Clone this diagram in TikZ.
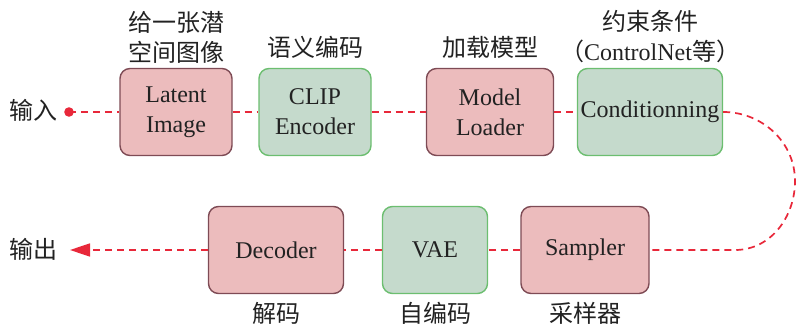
\documentclass[tikz,border=0pt]{standalone}
\usepackage{fontspec}
\setmainfont{Liberation Serif}
\newfontfamily\cjk{Noto Sans CJK SC}
\usepackage{xcolor}
\usetikzlibrary{arrows.meta}

\definecolor{redfill}{HTML}{ECBCBD}
\definecolor{reddraw}{HTML}{7E4B55}
\definecolor{greenfill}{HTML}{C5DACC}
\definecolor{greendraw}{HTML}{6CBE70}
\definecolor{flowred}{HTML}{E8283A}
\definecolor{ink}{HTML}{222222}

\begin{document}
\begin{tikzpicture}[x=0.5pt, y=-0.5pt,
    redbox/.style={draw=reddraw, fill=redfill, line width=0.7pt, rounded corners=5pt,
      minimum height=43.5pt, inner xsep=1pt, align=center, text=ink,
      font=\fontsize{12}{15}\selectfont},
    greenbox/.style={redbox, draw=greendraw, fill=greenfill},
    tag/.style={align=center, text=ink, font=\fontsize{12}{15}\selectfont\cjk},
    flow/.style={draw=flowred, line width=0.85pt, dash pattern=on 3.5pt off 2.5pt}]
        % Frame
        \useasboundingbox (0,0) rectangle (798,325);
        % Top row
        \node [redbox, minimum width=56pt] (latent) at (176,112) {Latent\\Image};
        \node [greenbox, minimum width=56pt] (clip) at (315,112) {CLIP\\Encoder};
        \node [redbox, minimum width=63.5pt] (model) at (490,112) {Model\\Loader};
        \node [greenbox, minimum width=72.5pt] (cond) at (650,112) {Conditionning};
        % Bottom row
        \node [redbox, minimum width=67.5pt] (dec) at (276,250) {Decoder};
        \node [greenbox, minimum width=52.5pt] (vae) at (435,250) {VAE};
        \node [redbox, minimum width=64pt] (samp) at (585,250) {Sampler};
        % Labels
        \node [tag] (latent-l) at (176,37) {给一张潜\\空间图像};
        \node [tag] (clip-l) at (315,47) {语义编码};
        \node [tag] (model-l) at (490,47) {加载模型};
        \node [tag] (cond-l) at (650,37) {约束条件\\（{\rmfamily ControlNet}等）};
        \node [tag] (dec-l) at (276,313) {解码};
        \node [tag] (vae-l) at (435,313) {自编码};
        \node [tag] (samp-l) at (585,313) {采样器};
        \node [tag] (in) at (34,110) {输入};
        \node [tag] (out) at (34,249) {输出};
        % Points
        \coordinate (dot) at (69,112);
        \coordinate (tip) at (70,250);
        \coordinate (turn) at (795,181);
        \coordinate (back) at (735,250);
        % Lines
        \fill [flowred] (dot) circle (2.4pt);
        \draw [flow] (dot) -- (latent);
        \draw [flow] (latent) -- (clip);
        \draw [flow] (clip) -- (model);
        \draw [flow] (model) -- (cond);
        \draw [flow] (cond.east) to [out=0, in=90] (turn) to [out=-90, in=0] (back) -- (samp.east);
        \draw [flow] (samp) -- (vae);
        \draw [flow] (vae) -- (dec);
        \draw [flow, -{Triangle[length=10pt, width=6.5pt]}] (dec) -- (tip);
    \end{tikzpicture}
\end{document}
